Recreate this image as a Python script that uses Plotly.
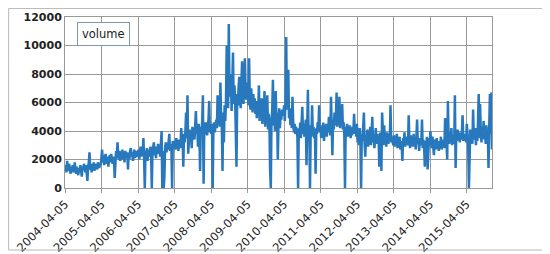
# 週次 volume の折れ線グラフ (Excel風)

import pandas as pd
import plotly.graph_objects as go


# データ ---------------------------------------------------------------
# 2004-04-05 から始まる週次データ (年ごとに分けて記載)
vol_2004 = [1300, 1600, 1100, 1900, 1400, 1200, 1700, 1300, 1000, 1500, 1200, 1600, 1100,
            1400, 1800, 1200, 1000, 1500, 1300, 900, 1400, 1100, 1600, 1200, 800, 1500,
            1300, 1700, 1400, 1100, 1600, 900, 500, 1500, 1800, 2500, 1300, 1700, 1100,
            1600, 1500, 1800, 1200, 1700, 1400, 1600, 1300, 1800, 1500, 1400, 1700, 1600]
vol_2005 = [2100, 2700, 1800, 2300, 1600, 2000, 2400, 1700, 2200, 1900, 1500, 2100, 2300,
            1800, 2400, 2000, 1700, 2200, 1900, 700, 2300, 2600, 2100, 3200, 2400, 2000,
            2600, 1900, 2500, 2200, 2700, 2000, 2400, 1800, 2600, 2300, 2100, 2500, 1300,
            2400, 2000, 2600, 2800, 2200, 2500, 1900, 2400, 2700, 2100, 2300, 2600, 2200]
vol_2006 = [2300, 2700, 2000, 2500, 2900, 2200, 2600, 2400, 3500, 2100, 0, 2600, 2300,
            2800, 1900, 2500, 2700, 2200, 2900, 2400, 0, 2600, 2800, 3200, 2300, 2700,
            2100, 2900, 2500, 3100, 2400, 2800, 2200, 3000, 4000, 0, 2600, 0, 800,
            2800, 3200, 2500, 3000, 2700, 3400, 3800, 2600, 3100, 2900, 0, 3300, 2800]
vol_2007 = [2900, 3300, 2700, 3500, 3000, 3200, 2600, 3400, 3100, 2800, 4200, 3300, 3600,
            1500, 3800, 3200, 4000, 5300, 3500, 6500, 2400, 3700, 4100, 3300, 3900, 2800,
            4300, 3600, 4100, 3400, 4600, 5400, 3800, 4200, 2900, 4500, 3700, 1200, 4300,
            3900, 4700, 6500, 300, 4400, 3800, 4600, 4100, 3700, 4300, 4800, 6100, 3900]
vol_2008 = [4300, 3800, 4500, 0, 4100, 4600, 3900, 4400, 4800, 4200, 6500, 4500, 5200,
            4300, 7400, 5000, 4400, 1200, 5300, 3200, 5800, 4700, 6200, 10000, 7300, 5600,
            11500, 6400, 7600, 8000, 5400, 6800, 9500, 5900, 7200, 6300, 2700, 1500, 6600,
            5800, 7100, 7800, 6200, 5600, 7400, 8900, 6500, 5900, 7700, 9100, 6800, 6200]
vol_2009 = [6500, 7400, 5800, 9100, 6200, 5500, 7000, 6000, 5300, 6600, 5700, 6300, 5200,
            6100, 4900, 5800, 5400, 7200, 4700, 5900, 5100, 6300, 4500, 5600, 4800, 6800,
            4300, 5500, 5000, 6500, 4100, 5200, 4600, 1300, 0, 4800, 5400, 7600, 4400,
            5100, 4000, 6800, 4700, 5300, 2000, 4500, 5600, 4200, 5200, 4800, 5500, 5100]
vol_2010 = [5200, 5800, 4700, 6100, 10600, 5500, 7200, 8300, 4900, 5600, 4400, 5100, 4200,
            6400, 4600, 3900, 4500, 3800, 4300, 4000, 3600, 0, 4200, 3700, 4600, 3500,
            4300, 5700, 3800, 4500, 3600, 4200, 4800, 1600, 4100, 6900, 3700, 4400, 0,
            4000, 3600, 5800, 3900, 4300, 3500, 4100, 1000, 4200, 3800, 4600, 4000, 5800]
vol_2011 = [3900, 4400, 3500, 4200, 3700, 4600, 3300, 4100, 3800, 4500, 3600, 4300, 3900,
            5000, 4200, 3700, 6400, 4500, 2300, 4800, 4100, 5300, 4400, 4900, 6700, 4300,
            5100, 4600, 6400, 4200, 5500, 4400, 5900, 4100, 4600, 3800, 0, 4300, 3900,
            4500, 3600, 4200, 3800, 4400, 3500, 4100, 3700, 4300, 4000, 5200, 3800, 4200]
vol_2012 = [3600, 4500, 3200, 3900, 3000, 4200, 3400, 0, 3800, 3300, 4000, 5300, 3100,
            2200, 3700, 3400, 4100, 2900, 3600, 3300, 4300, 3000, 3800, 5000, 3200, 3700,
            2800, 3500, 4200, 3100, 3800, 3300, 3600, 1500, 3900, 3400, 1200, 5300, 3500,
            3000, 4400, 3200, 3700, 2900, 3900, 3400, 3100, 3800, 3300, 5800, 3200, 3600]
vol_2013 = [3400, 3000, 3700, 2900, 3500, 3200, 3800, 2800, 3400, 3100, 3600, 2700, 3300,
            3000, 1900, 3500, 3200, 3900, 2900, 3600, 3100, 3400, 3000, 5100, 3300, 2800,
            3700, 3100, 3500, 2900, 3800, 3200, 3400, 2700, 3600, 4800, 3100, 3300, 2600,
            3500, 3000, 3200, 4800, 2800, 3400, 3000, 1500, 3300, 2700, 3600, 1300, 3200]
vol_2014 = [3500, 3000, 4000, 3200, 2800, 3600, 2900, 2300, 3400, 3100, 2700, 3500, 3000,
            3300, 2600, 3200, 2900, 3600, 2700, 3300, 3000, 3400, 2800, 4900, 4300, 3200,
            2000, 6100, 3500, 3100, 3900, 3300, 4200, 3000, 3700, 3400, 3100, 6500, 1400,
            3800, 3300, 4100, 3500, 3900, 3200, 3700, 3400, 4000, 5100, 3300, 3800, 3500]
vol_2015 = [3600, 3200, 4500, 3800, 3000, 0, 3500, 4100, 3300, 3900, 3100, 5500, 3600,
            3400, 4200, 3000, 3700, 3300, 4600, 6600, 3500, 5900, 3900, 3200, 4300, 3600,
            4700, 3400, 3900, 3100, 4400, 3700, 4000, 1400, 4200, 6600, 3800, 6700, 2700]

volume = (vol_2004 + vol_2005 + vol_2006 + vol_2007 + vol_2008 + vol_2009 + vol_2010
          + vol_2011 + vol_2012 + vol_2013 + vol_2014 + vol_2015)
dates = pd.date_range("2004-04-05", periods=len(volume), freq="7D")

y_ticks = [0, 2000, 4000, 6000, 8000, 10000, 12000]


# グラフ作成 -------------------------------------------------------------
# ページの body 余白 (8px) を考慮してサイズを調整
fig = go.Figure()
fig.add_trace(go.Scatter(x=dates, y=volume, mode="lines", name="volume",
                         showlegend=False,
                         line={"color": "#2878be", "width": 2.5}))

grid = "#9a9a9a"
fig.update_layout(
    width=542, height=246,
    margin={"l": 57, "r": 58, "t": 9, "b": 66},
    paper_bgcolor="white", plot_bgcolor="white",
    font={"family": "DejaVu Sans", "color": "#222"},
    xaxis={"type": "date", "range": [dates[0], dates[-1]], "automargin": False,
           "tick0": "2004-04-05", "dtick": "M12", "tickformat": "%Y-%m-%d",
           "tickangle": -45, "tickfont": {"size": 11.5},
           "showgrid": True, "gridcolor": grid, "gridwidth": 1,
           "showline": True, "linecolor": grid, "mirror": True,
           "ticks": "outside", "ticklen": 4, "tickcolor": grid},
    yaxis={"range": [0, 12000], "tickvals": y_ticks, "tickformat": "d",
           "automargin": False,
           "tickfont": {"size": 11, "weight": "bold"},
           "showgrid": True, "gridcolor": grid, "gridwidth": 1,
           "showline": True, "linecolor": grid, "mirror": True,
           "ticks": "", "zeroline": False},
    shapes=[{"type": "rect", "xref": "paper", "yref": "paper",
             "x0": -0.132, "x1": 1.131, "y0": -0.3626, "y1": 1.05,
             "line": {"color": "#b8b8b8", "width": 1}}],
)

# 凡例 (テキストのみの枠付きボックス)
fig.add_annotation(text="volume", xref="paper", yref="paper",
                   x=0.089, y=0.898, xanchor="center", yanchor="middle",
                   showarrow=False,
                   font={"size": 11.5}, bgcolor="white",
                   bordercolor="#7f95b0", borderwidth=1, borderpad=4)

fig.write_html("out.html")
